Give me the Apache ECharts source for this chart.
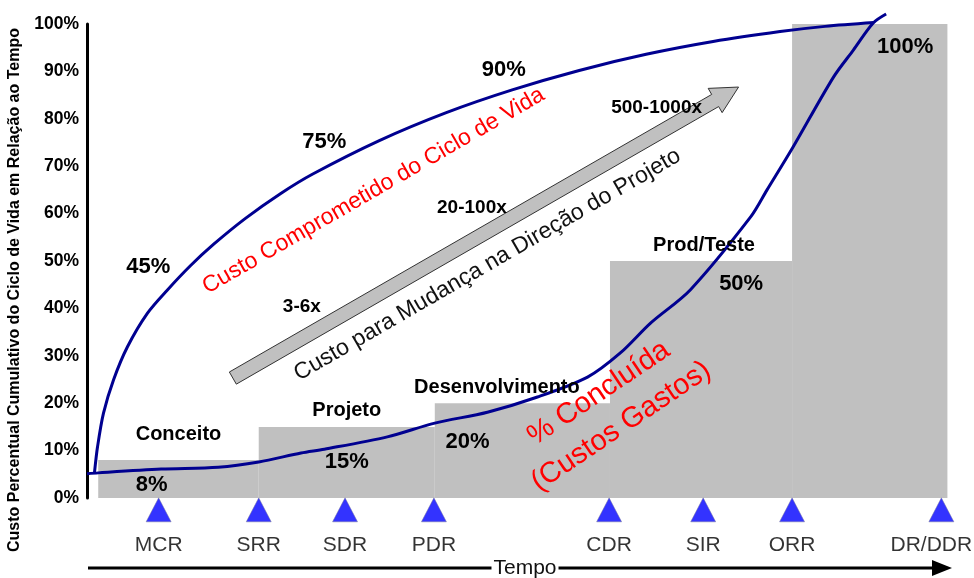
<!DOCTYPE html>
<html><head><meta charset="utf-8">
<script src="https://cdn.jsdelivr.net/npm/echarts@6/dist/echarts.min.js"></script>
<style>html,body{margin:0;padding:0;background:#fff}#c{width:974px;height:578px}</style>
</head><body><div id="c"></div>
<script>
// ---- data ----
const yTickLabels = ['0%','10%','20%','30%','40%','50%','60%','70%','80%','90%','100%'];
const phaseNames  = ['Conceito','Projeto','Desenvolvimento','Prod/Teste',''];
const phaseStart  = [1.3, 19.9, 40.3, 60.6, 81.7];
const phaseEnd    = [19.9, 40.3, 60.6, 81.7, 99.7];
const phaseSpent  = [8, 15, 20, 50, 100];
const milestoneNames = ['MCR','SRR','SDR','PDR','CDR','SIR','ORR','DR/DDR'];
const milestoneX     = [8.3, 19.9, 29.9, 40.2, 60.5, 71.4, 81.7, 99.0];
const milestoneY     = -2.5;
const committedX = [0.87, 1.22, 1.91, 3.07, 4.69, 7.01, 9.32, 11.98, 14.65, 18.36, 22.41, 26.11, 33.87, 41.63, 49.27, 57.03, 64.79, 72.55, 80.31, 85.52, 91.2];
const committedY = [5.4, 10.8, 17.9, 24.9, 31.9, 39.0, 43.9, 49.0, 53.5, 59.0, 64.2, 68.3, 75.4, 81.3, 86.1, 90.2, 93.6, 96.3, 98.4, 99.5, 100.3];
const spentX = [0, 1.3, 8.6, 15.2, 19.9, 24.8, 27.5, 34.8, 40.3, 46.4, 52.2, 58.0, 61.8, 65.3, 69.9, 76.9, 78.8, 81.8, 86.5, 88.8, 91.1, 92.6];
const spentY = [5.1, 5.3, 6.1, 6.5, 7.6, 9.5, 10.3, 12.9, 15.8, 18.1, 21.3, 25.5, 30.6, 36.9, 43.9, 59.3, 65.0, 74.0, 88.8, 94.5, 100.2, 102.1];
// annotation texts (data coordinates)
const stageLabelX = [10.6, 30.1, 47.5, 71.5];
const stageLabelY = [13.3, 18.4, 23.4, 53.2];
const spentPctText = ['8%','15%','20%','50%','100%'];
const spentPctX = [7.5, 30.1, 44.1, 75.8, 94.8];
const spentPctY = [2.7, 7.6, 11.8, 45.1, 95.1];
const committedPctText = ['45%','75%','90%'];
const committedPctX = [7.1, 27.5, 48.3];
const committedPctY = [48.7, 75.1, 90.3];
const multText = ['3-6x','20-100x','500-1000x'];
const multX = [24.9, 44.6, 66.0];
const multY = [40.3, 61.2, 82.3];
const arrowTail = [16.9, 25.3];
const arrowTip  = [75.5, 86.7];
const timeAxisName = 'Tempo';
const yAxisTitle = 'Custo Percentual Cumulativo do Ciclo de Vida em Relação ao Tempo';

const FONT = '"Liberation Sans", Arial, sans-serif';
const chart = echarts.init(document.getElementById('c'));

const phaseData = phaseStart.map((s, i) => [s, phaseEnd[i], phaseSpent[i]]);

chart.setOption({
  animation: false,
  backgroundColor: '#fff',
  textStyle: { fontFamily: FONT },
  grid: { left: 87, right: 24, top: 24, bottom: 80, containLabel: false, outerBoundsMode: 'none' },
  xAxis: {
    type: 'value', min: 0, max: 100,
    axisLine: { show: false }, axisTick: { show: false }, axisLabel: { show: false }, splitLine: { show: false }
  },
  yAxis: {
    type: 'value', min: 0, max: 100, interval: 10,
    axisLine: { show: true, lineStyle: { color: '#000', width: 3 } },
    axisTick: { show: false }, splitLine: { show: false },
    axisLabel: { formatter: v => yTickLabels[Math.round(v / 10)], fontWeight: 'bold', fontSize: 17.5, color: '#000', margin: 8, fontFamily: FONT }
  },
  series: [
    {
      type: 'custom', z: 1, clip: false,
      renderItem: (params, api) => {
        const p0 = api.coord([api.value(0), api.value(2)]);
        const p1 = api.coord([api.value(1), 0]);
        return { type: 'rect', shape: { x: p0[0], y: p0[1], width: p1[0] - p0[0], height: p1[1] - p0[1] }, style: { fill: '#C0C0C0' } };
      },
      data: phaseData
    },
    {
      type: 'line', z: 3, clip: false, showSymbol: false, smooth: 0.3,
      lineStyle: { color: '#000090', width: 3 },
      data: committedX.map((x, i) => [x, committedY[i]])
    },
    {
      type: 'line', z: 3, clip: false, showSymbol: false, smooth: 0.3,
      lineStyle: { color: '#000090', width: 3 },
      data: spentX.map((x, i) => [x, spentY[i]])
    },
    {
      type: 'scatter', z: 4, clip: false, symbol: 'triangle', symbolSize: [25, 24],
      itemStyle: { color: '#0000ff', borderColor: '#7a7a9a', borderWidth: 0.6 },
      label: { show: true, position: 'bottom', distance: 13, formatter: p => p.name, fontSize: 21, color: '#000', fontFamily: FONT },
      data: milestoneX.map((x, i) => ({ name: milestoneNames[i], value: [x, milestoneY],
        label: i === milestoneX.length - 1 ? { offset: [-10, 0] } : undefined }))
    }
  ]
});

const px = (x, y) => chart.convertToPixel({ gridIndex: 0 }, [x, y]);
const g = [];
function txt(x, y, text, font, fill, rot, extra) {
  const p = px(x, y);
  g.push({ type: 'text', x: p[0], y: p[1], rotation: (rot || 0) * Math.PI / 180, z: 20,
    style: Object.assign({ text, font, fill, align: 'center', verticalAlign: 'middle' }, extra || {}) });
}
function arrow(t, h, w, hw, hl, style, z) {
  const dx = h[0] - t[0], dy = h[1] - t[1], L = Math.hypot(dx, dy);
  const d = [dx / L, dy / L], n = [-d[1], d[0]];
  const b = [h[0] - d[0] * hl, h[1] - d[1] * hl];
  const pt = (o, k) => [o[0] + n[0] * k, o[1] + n[1] * k];
  g.push({ type: 'polygon', z, shape: { points: [pt(t, w), pt(b, w), pt(b, hw), h, pt(b, -hw), pt(b, -w), pt(t, -w)] }, style });
}
// grey "cost to change" arrow
arrow(px(arrowTail[0], arrowTail[1]), px(arrowTip[0], arrowTip[1]), 7, 14, 27, { fill: '#C0C0C0', stroke: '#333', lineWidth: 1 }, 15);
// time arrow below the milestones
(function () {
  const left = px(0, 0)[0] + 1, right = px(100, 0)[0] + 2;
  const y = px(0, 0)[1] + 70;
  arrow([left, y], [right, y], 1.5, 8, 20, { fill: '#000' }, 15);
  g.push({ type: 'text', x: (left + right) / 2 + 5, y: y, z: 20,
    style: { text: timeAxisName, font: '21px ' + FONT, fill: '#111', align: 'center', verticalAlign: 'middle', backgroundColor: '#fff', padding: [0, 2] } });
})();
stageLabelX.forEach((x, i) => txt(x, stageLabelY[i], phaseNames[i], 'bold 20px ' + FONT, '#000'));
spentPctX.forEach((x, i) => txt(x, spentPctY[i], spentPctText[i], 'bold 22px ' + FONT, '#000'));
committedPctX.forEach((x, i) => txt(x, committedPctY[i], committedPctText[i], 'bold 22px ' + FONT, '#000'));
multX.forEach((x, i) => txt(x, multY[i], multText[i], 'bold 19px ' + FONT, '#000'));
txt(33.2, 64.8, 'Custo Comprometido do Ciclo de Vida', '23px ' + FONT, '#ff0000', 30);
txt(46.4, 49.2, 'Custo para Mudança na Direção do Projeto', '23px ' + FONT, '#111', 30);
txt(60.6, 18.6, '% Concluída\n(Custos Gastos)', '29px ' + FONT, '#ff0000', 34, { lineHeight: 40 });
// y-axis title
g.push({ type: 'text', x: 15, y: 290, rotation: Math.PI / 2, z: 20,
  style: { text: yAxisTitle, font: 'bold 16px ' + FONT, fill: '#000', align: 'center', verticalAlign: 'middle' } });
chart.setOption({ graphic: g });
</script>
</body></html>
